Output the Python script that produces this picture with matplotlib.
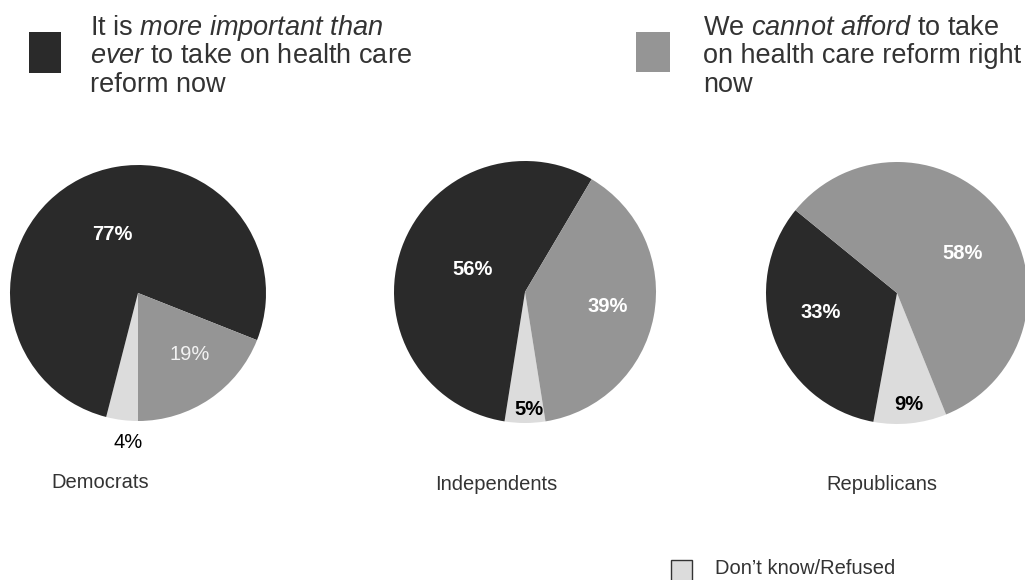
import matplotlib.pyplot as plt
from matplotlib.patches import Rectangle

plt.rcParams["font.family"] = ["Liberation Sans", "DejaVu Sans"]
plt.rcParams["mathtext.fontset"] = "custom"
plt.rcParams["mathtext.rm"] = "Liberation Sans"
plt.rcParams["mathtext.it"] = "Liberation Sans:italic"
plt.rcParams["mathtext.bf"] = "Liberation Sans:bold"

W, H = 1025, 580

# survey shares (%) per party
groups = ["Democrats", "Independents", "Republicans"]
dont_know = [4, 5, 9]
more_important = [77, 56, 33]
cannot_afford = [19, 39, 58]

legend_dk = "Don\u2019t know/Refused"
legend_more = ["It is $\\mathit{more\\ important\\ than}$",
               "$\\mathit{ever}$ to take on health care",
               "reform now"]
legend_cannot = ["We $\\mathit{cannot\\ afford}$ to take",
                 "on health care reform right",
                 "now"]

colors = ["#dcdcdc", "#2a2a2a", "#959595"]
text_color = "#333333"

# layout in pixels
centers = [(138, 293), (525, 292), (897, 293)]
radii = [128, 131, 131]
start_angles = [270, 279, 292]
name_pos = [(100, 482), (496, 485), (882, 485)]

# label offsets from pie centre in radius units, order: don't know, more, cannot
label_offsets = [
    [(-0.08, -1.17), (-0.20, 0.46), (0.40, -0.48)],
    [(0.03, -0.90), (-0.40, 0.17), (0.63, -0.11)],
    [(0.09, -0.85), (-0.58, -0.15), (0.50, 0.30)],
]
label_styles = [
    [("black", "normal"), ("white", "bold"), ("#f2f2f2", "normal")],
    [("black", "bold"), ("white", "bold"), ("white", "bold")],
    [("black", "bold"), ("white", "bold"), ("white", "bold")],
]


def fx(x):
    return x / W


def fy(y):
    return 1 - y / H


fig = plt.figure(figsize=(W / 100, H / 100), dpi=100)
fig.patch.set_facecolor("white")

for i, name in enumerate(groups):
    cx, cy = centers[i]
    r = radii[i]
    ax = fig.add_axes([fx(cx - r), fy(cy + r), 2 * r / W, 2 * r / H])
    vals = [dont_know[i], more_important[i], cannot_afford[i]]
    ax.pie(vals, colors=colors, startangle=start_angles[i], counterclock=False,
           radius=1, wedgeprops=dict(linewidth=0))
    ax.set_xlim(-1, 1)
    ax.set_ylim(-1, 1)
    ax.axis("off")
    for v, (dx, dy), (c, w) in zip(vals, label_offsets[i], label_styles[i]):
        ax.text(dx, dy, f"{v}%", color=c, fontweight=w, fontsize=14.5,
                ha="center", va="center")
    fig.text(fx(name_pos[i][0]), fy(name_pos[i][1]), name, fontsize=14.5,
             color=text_color, ha="center", va="center")

# top legend
fig.patches.append(Rectangle((fx(29), fy(73)), 32 / W, 41 / H,
                             transform=fig.transFigure, facecolor=colors[1],
                             edgecolor="none"))
fig.patches.append(Rectangle((fx(636), fy(72)), 34 / W, 40 / H,
                             transform=fig.transFigure, facecolor=colors[2],
                             edgecolor="none"))
baselines = [35, 63, 92]
for line, y in zip(legend_more, baselines):
    fig.text(fx(90), fy(y), line, fontsize=19.5, color=text_color,
             ha="left", va="baseline")
for line, y in zip(legend_cannot, baselines):
    fig.text(fx(703), fy(y), line, fontsize=19.5, color=text_color,
             ha="left", va="baseline")

# bottom legend
fig.patches.append(Rectangle((fx(671), fy(581)), 21 / W, 21 / H,
                             transform=fig.transFigure, facecolor=colors[0],
                             edgecolor="#333333", linewidth=1))
fig.text(fx(715), fy(568), legend_dk, fontsize=14.5, color=text_color,
         ha="left", va="center")

fig.savefig("out.png", dpi=100)
